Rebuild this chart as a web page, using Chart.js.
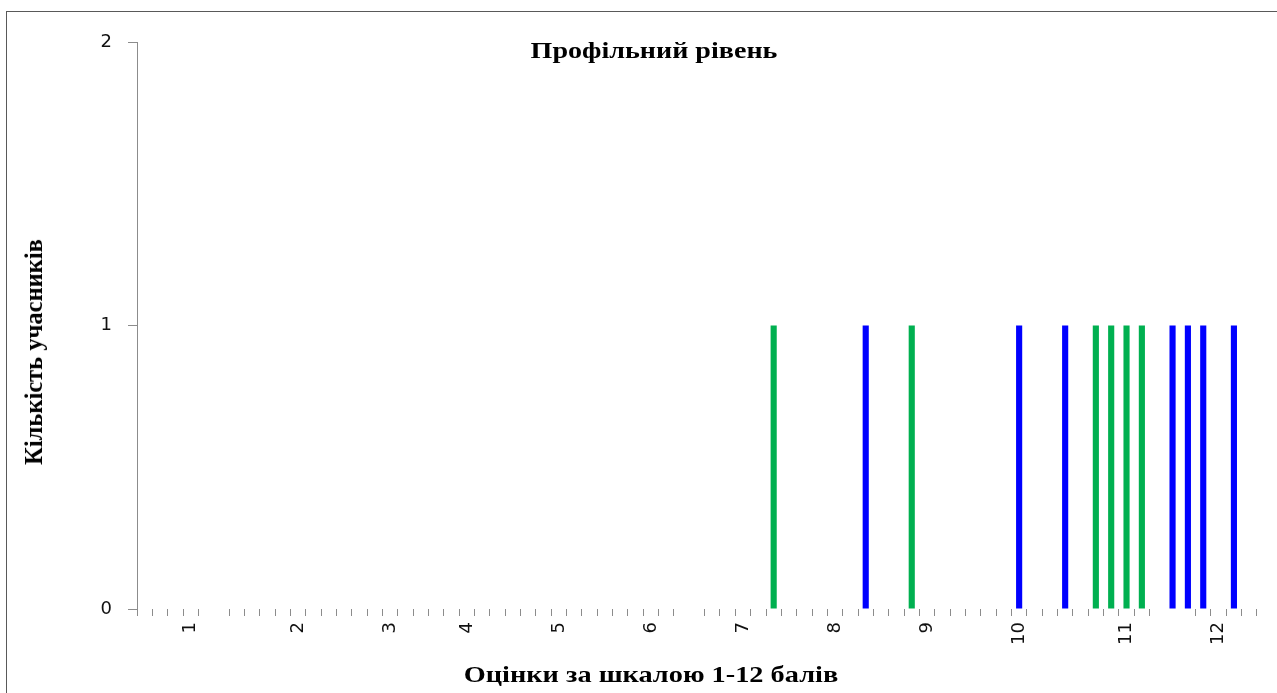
<!DOCTYPE html>
<html>
<head>
<meta charset="utf-8">
<script src="https://cdn.jsdelivr.net/npm/chart.js@4"></script>
<style>
  body { margin: 0; background: #fff; }
  #wrap { position: relative; width: 1277px; height: 693px; overflow: hidden; }
  #frame { position: absolute; left: 6px; top: 11px; width: 1400px; height: 800px; border: 1.5px solid #595959; box-sizing: border-box; }
  canvas { position: absolute; left: 0; top: 0; }
  .txt { position: absolute; font-family: "Liberation Serif", "Times New Roman", serif; font-weight: bold; color: #000; white-space: nowrap; }
  #title { left: 654px; top: 51px; font-size: 23px; transform: translate(-50%, -50%) scaleX(1.22); }
  #xTitle { left: 651px; top: 674px; font-size: 24px; transform: translate(-50%, -50%) scaleX(1.18); }
  #yTitle { left: 34px; top: 352px; font-size: 24.5px; transform: translate(-50%, -50%) rotate(-90deg); }
</style>
</head>
<body>
<div id="wrap">
  <div id="frame"></div>
  <canvas id="chart" width="1277" height="693"></canvas>
  <div class="txt" id="title">Профільний рівень</div>
  <div class="txt" id="yTitle">Кількість учасників</div>
  <div class="txt" id="xTitle">Оцінки за шкалою 1-12 балів</div>
</div>
<script>
// 73 categories, only some carry a grade label
const scoreLabels = [
  '', '', '', '1', '', '', '', '', '', '',
  '2', '', '', '', '', '', '3', '', '', '',
  '', '4', '', '', '', '', '', '5', '', '',
  '', '', '', '6', '', '', '', '', '', '7',
  '', '', '', '', '', '8', '', '', '', '',
  '', '9', '', '', '', '', '', '10', '', '',
  '', '', '', '', '11', '', '', '', '', '',
  '12', '', ''
];
const greenCounts = [
  0, 0, 0, 0, 0, 0, 0, 0, 0, 0,
  0, 0, 0, 0, 0, 0, 0, 0, 0, 0,
  0, 0, 0, 0, 0, 0, 0, 0, 0, 0,
  0, 0, 0, 0, 0, 0, 0, 0, 0, 0,
  0, 1, 0, 0, 0, 0, 0, 0, 0, 0,
  1, 0, 0, 0, 0, 0, 0, 0, 0, 0,
  0, 0, 1, 1, 1, 1, 0, 0, 0, 0,
  0, 0, 0
];
const blueCounts = [
  0, 0, 0, 0, 0, 0, 0, 0, 0, 0,
  0, 0, 0, 0, 0, 0, 0, 0, 0, 0,
  0, 0, 0, 0, 0, 0, 0, 0, 0, 0,
  0, 0, 0, 0, 0, 0, 0, 0, 0, 0,
  0, 0, 0, 0, 0, 0, 0, 1, 0, 0,
  0, 0, 0, 0, 0, 0, 0, 1, 0, 0,
  1, 0, 0, 0, 0, 0, 0, 1, 1, 1,
  0, 1, 0
];
const countTicks = [0, 1, 2];
const hiddenTicks = [5, 36, 67, 68];

const axisGray = '#8c8c8c';

new Chart(document.getElementById('chart').getContext('2d'), {
  type: 'bar',
  data: {
    labels: scoreLabels,
    datasets: [
      { data: greenCounts, backgroundColor: '#00b050', barPercentage: 0.4, categoryPercentage: 1 },
      { data: blueCounts, backgroundColor: '#0000ff', barPercentage: 0.4, categoryPercentage: 1 }
    ]
  },
  options: {
    responsive: false,
    animation: false,
    layout: { padding: { top: 42, right: 20, bottom: 0, left: 0 } },
    plugins: { legend: { display: false }, tooltip: { enabled: false } },
    scales: {
      x: {
        stacked: true,
        border: { display: false },
        grid: {
          offset: true,
          drawOnChartArea: false,
          tickLength: 7,
          color: ctx => hiddenTicks.includes(ctx.index) ? 'rgba(0,0,0,0)' : axisGray
        },
        ticks: {
          autoSkip: false,
          maxRotation: 90,
          minRotation: 90,
          padding: 6,
          color: '#111',
          font: { family: 'DejaVu Sans', size: 18 }
        },
        afterFit: s => { s.height = 84; }
      },
      y: {
        min: 0,
        max: 2,
        afterBuildTicks: s => { s.ticks = countTicks.map(v => ({ value: v })); },
        border: { color: axisGray },
        grid: { drawOnChartArea: false, tickLength: 9, color: axisGray },
        ticks: { padding: 16, color: '#111', font: { family: 'DejaVu Sans', size: 18 } },
        afterFit: s => { s.width = 137; }
      }
    }
  }
});
</script>
</body>
</html>
